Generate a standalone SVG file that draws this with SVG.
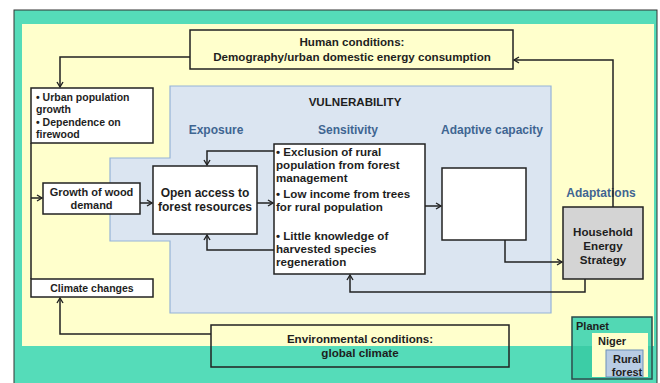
<svg xmlns="http://www.w3.org/2000/svg" width="660" height="383" viewBox="0 0 660 383">
<defs>
<marker id="ah" markerWidth="8" markerHeight="8" refX="6" refY="4" orient="auto" markerUnits="userSpaceOnUse">
<path d="M1,1 L6,4 L1,7" fill="none" stroke="#222" stroke-width="1.4"/>
</marker>
<style>
text{font-family:"Liberation Sans",Arial,sans-serif;font-weight:bold;fill:#1e1e1e;font-size:11px}
.c{text-anchor:middle}
.s{font-size:10.5px}
.m{font-size:11.6px}
.blue{fill:#3f6592;font-size:12px}
.box{fill:#fff;stroke:#222;stroke-width:1.5}
.ybox{fill:#ffffcc;stroke:#222;stroke-width:1.5}
.con{fill:none;stroke:#222;stroke-width:1.5}
</style>
</defs>
<rect x="0" y="0" width="660" height="383" fill="#fff"/>
<rect x="14" y="10" width="643" height="375" fill="#55dcb9" stroke="#333" stroke-width="1"/>
<rect x="22" y="24" width="632" height="322" fill="#ffffcc"/>
<g id="vulnerability">
<path d="M170,86 L551,86 L551,313 L170,313 L170,241 L110,241 L110,158 L170,158 Z" fill="#dbe5f1" stroke="#95b3d7" stroke-width="1.2"/>
<text x="355" y="106" class="c m">VULNERABILITY</text>
<text x="216" y="134" class="c blue">Exposure</text>
<text x="348" y="134" class="c blue">Sensitivity</text>
<text x="492" y="134" class="c blue">Adaptive capacity</text>
</g>
<g id="human">
<rect x="190" y="30" width="323" height="39" class="ybox"/>
<text x="352" y="46" class="c m">Human conditions:</text>
<text x="352" y="61" class="c m">Demography/urban domestic energy consumption</text>
</g>
<g id="urban">
<rect x="31" y="88" width="122" height="55" class="box"/>
<text x="36" y="101" class="s">• Urban population</text>
<text x="36" y="113" class="s">growth</text>
<text x="36" y="126" class="s">• Dependence on</text>
<text x="36" y="138" class="s">firewood</text>
</g>
<g id="growth">
<rect x="43" y="183" width="97" height="31" class="box"/>
<text x="91.5" y="196" class="c">Growth of wood</text>
<text x="91.5" y="209" class="c">demand</text>
</g>
<g id="openaccess">
<rect x="153" y="166" width="104" height="68" class="box"/>
<text x="205" y="197" class="c" style="font-size:12px">Open access to</text>
<text x="205" y="211" class="c" style="font-size:12px">forest resources</text>
</g>
<g id="sensitivity">
<rect x="274" y="144" width="151" height="130" class="box"/>
<text x="276" y="156" class="m"> • Exclusion of rural</text>
<text x="276" y="169" class="m">population from forest</text>
<text x="276" y="182" class="m">management</text>
<text x="276" y="198" class="m"> • Low income from trees</text>
<text x="276" y="211" class="m">for rural population</text>
<text x="276" y="240" class="m"> • Little knowledge of</text>
<text x="276" y="253" class="m">harvested species</text>
<text x="276" y="266" class="m">regeneration</text>
</g>
<g id="adaptive">
<rect x="442" y="168" width="84" height="72" class="box"/>
</g>
<g id="household">
<text x="601" y="197" class="c blue">Adaptations</text>
<rect x="563" y="207" width="80" height="72" fill="#d4d4d4" stroke="#222" stroke-width="1.5"/>
<text x="603" y="236" class="c m">Household</text>
<text x="603" y="250" class="c m">Energy</text>
<text x="603" y="264" class="c m">Strategy</text>
</g>
<g id="climate">
<rect x="31" y="279" width="122" height="18" class="box"/>
<text x="92" y="292" class="c s">Climate changes</text>
</g>
<g id="environment">
<rect x="211" y="325" width="298" height="42" fill="none" stroke="#222" stroke-width="1.5"/>
<text x="360" y="343" class="c m">Environmental conditions:</text>
<text x="360" y="357" class="c m">global climate</text>
</g>
<g id="legend">
<rect x="572" y="317" width="80" height="62" fill="#52d8b4" stroke="#2a4a4a" stroke-width="1.5"/>
<rect x="573" y="346" width="78" height="32" fill="#3ccda6"/>
<rect x="592" y="333" width="56" height="44" fill="#ffffcc"/>
<rect x="606" y="350" width="37" height="27" fill="#b8cce4" stroke="#6d8fb8" stroke-width="1"/>
<text x="576" y="330">Planet</text>
<text x="598" y="345">Niger</text>
<text x="627" y="363" class="c">Rural</text>
<text x="627" y="376" class="c">forest</text>
</g>
<g id="connectors">
<path d="M613,207 L613,60 L514,60" class="con" marker-end="url(#ah)"/>
<path d="M190,57 L60,57 L60,87" class="con" marker-end="url(#ah)"/>
<path d="M31,143 L31,279" class="con"/>
<path d="M31,198 L42,198" class="con" marker-end="url(#ah)"/>
<path d="M140,203 L152,203" class="con" marker-end="url(#ah)"/>
<path d="M257,203 L273,203" class="con" marker-end="url(#ah)"/>
<path d="M274,151 L207,151 L207,165" class="con" marker-end="url(#ah)"/>
<path d="M274,250 L207,250 L207,235" class="con" marker-end="url(#ah)"/>
<path d="M425,206 L441,206" class="con" marker-end="url(#ah)"/>
<path d="M505,240 L505,262 L562,262" class="con" marker-end="url(#ah)"/>
<path d="M585,279 L585,292 L350,292 L350,275" class="con" marker-end="url(#ah)"/>
<path d="M211,334 L60,334 L60,298" class="con" marker-end="url(#ah)"/>
</g>
</svg>
